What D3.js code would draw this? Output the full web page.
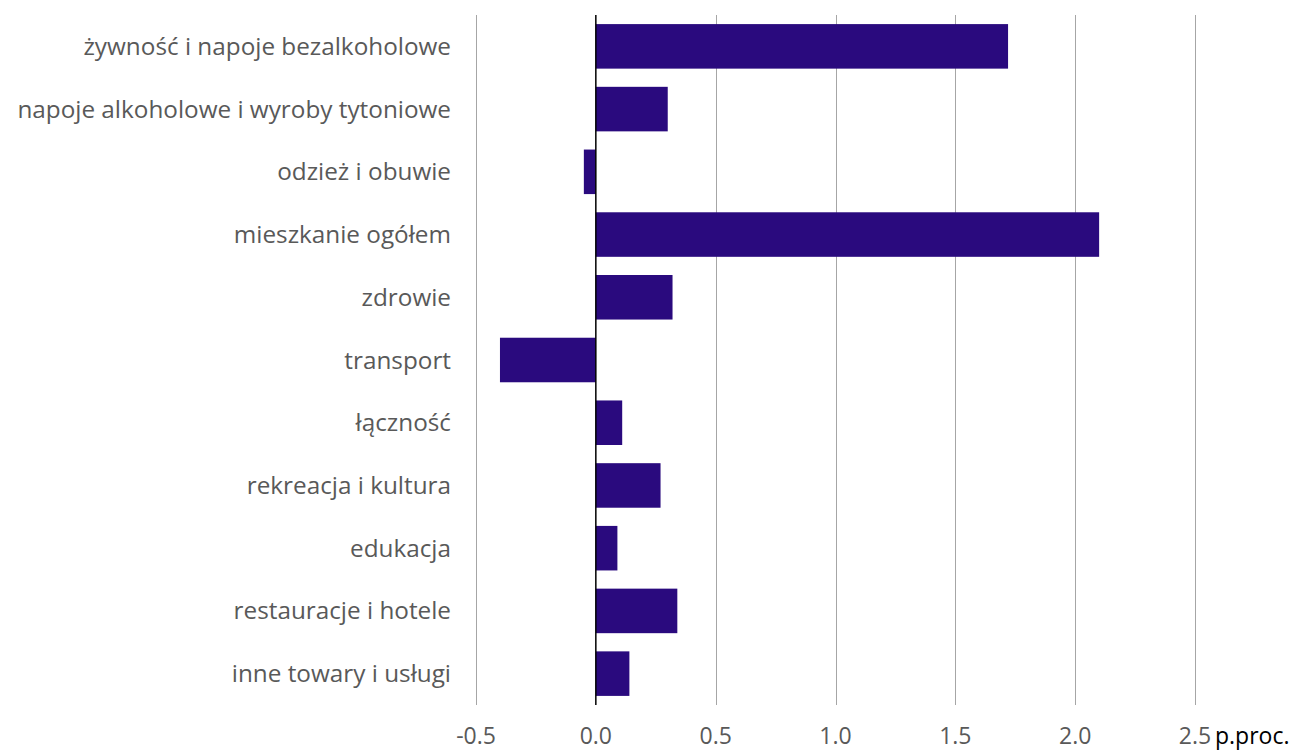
<!DOCTYPE html>
<html><head><meta charset="utf-8">
<script src="https://cdn.jsdelivr.net/npm/d3@7"></script>
<style>body{margin:0;background:#fff}svg{display:block}</style>
</head><body>
<svg id="c" width="1298" height="751"></svg>
<script>
const categories = ["żywność i napoje bezalkoholowe","napoje alkoholowe i wyroby tytoniowe","odzież i obuwie","mieszkanie ogółem","zdrowie","transport","łączność","rekreacja i kultura","edukacja","restauracje i hotele","inne towary i usługi"];
const values = [1.72,0.30,-0.05,2.10,0.32,-0.40,0.11,0.27,0.09,0.34,0.14];
const ticks = [-0.5,0,0.5,1.0,1.5,2.0,2.5];
const unitLabel = "p.proc.";

const svg = d3.select("#c");
const font = "'Open Sans', 'Noto Sans', sans-serif";
const x = d3.scaleLinear().domain([-0.5,2.5]).range([476,1195]);
const y = d3.scaleBand().domain(categories).range([15,705]).paddingInner(0.29).paddingOuter(0.145);

svg.append("g").selectAll("line").data(ticks.filter(t=>t!==0)).join("line")
  .attr("x1",d=>Math.round(x(d))+0.5).attr("x2",d=>Math.round(x(d))+0.5)
  .attr("y1",15).attr("y2",705).attr("stroke","#a6a6a6").attr("stroke-width",1);

svg.append("g").selectAll("rect").data(values).join("rect")
  .attr("x",(d)=>x(Math.min(0,d))).attr("width",d=>Math.abs(x(d)-x(0)))
  .attr("y",(d,i)=>y(categories[i])).attr("height",y.bandwidth())
  .attr("fill","#2a0a7e");

svg.append("line").attr("x1",x(0)).attr("x2",x(0)).attr("y1",15).attr("y2",705)
  .attr("stroke","#000").attr("stroke-width",1.5);

svg.append("g").selectAll("text").data(categories).join("text")
  .attr("x",451).attr("y",d=>y(d)+y.bandwidth()/2).attr("dy","0.35em")
  .attr("text-anchor","end").attr("font-family",font).attr("font-size",24.3)
  .attr("fill","#595959").text(d=>d);

svg.append("g").selectAll("text").data(ticks).join("text")
  .attr("x",d=>x(d)).attr("y",744).attr("text-anchor","middle")
  .attr("font-family",font).attr("font-size",23).attr("fill","#595959")
  .text(d=>d3.format(".1f")(d).replace("\u2212","-"));

svg.append("text").attr("x",1215).attr("y",744).attr("font-family",font)
  .attr("font-size",23).attr("fill","#000").text(unitLabel);
</script>
</body></html>
